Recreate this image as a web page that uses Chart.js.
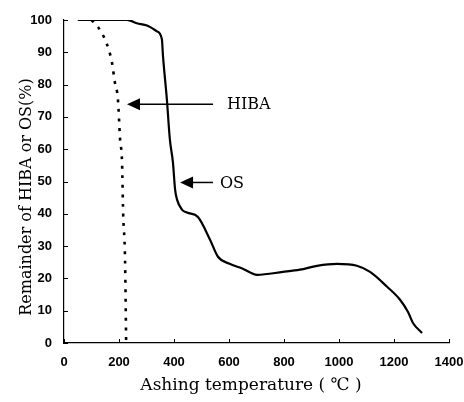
<!DOCTYPE html>
<html>
<head>
<meta charset="utf-8">
<script src="https://cdn.jsdelivr.net/npm/chart.js@4.4.1/dist/chart.umd.min.js"></script>
<style>
  html, body { margin: 0; padding: 0; background: #fff; }
  #wrap { width: 464px; height: 402px; }
</style>
</head>
<body>
<div id="wrap"><canvas id="ashChart" width="464" height="402"></canvas></div>
<script>
  // values
  const osTemp  = [50, 229, 265, 302, 338, 356, 360, 374, 385, 396, 404, 411, 429, 447, 487, 531, 560, 600, 650, 702, 796, 858, 920, 993, 1065, 1113, 1175, 1222, 1251, 1269, 1302];
  const osValue = [100, 100, 99, 98.3, 96.5, 94, 88.8, 75.5, 63, 56, 47.5, 44.4, 41.3, 40.4, 39, 32, 26.7, 24.6, 23, 21.1, 22, 22.7, 23.9, 24.5, 23.9, 22, 17.4, 13.4, 9.6, 6.2, 3.1];

  const hibaTemp  = [100, 124, 156, 174, 185, 196, 204, 211, 215, 222, 226];
  const hibaValue = [100, 97.8, 92.5, 87, 80.7, 75.5, 63, 56, 40.4, 25.8, 0];

  const xTicks = [0, 200, 400, 600, 800, 1000, 1200, 1400];
  const yTicks = [0, 10, 20, 30, 40, 50, 60, 70, 80, 90, 100];

  // arrow labels: text, arrow tip (temp, value), tail temp, text start temp
  const arrowLabels = ['HIBA', 'OS'];
  const arrowTipX   = [229, 422];
  const arrowTipY   = [73.9, 49.7];
  const arrowTailX  = [542, 542];
  const arrowTextX  = [593, 567];

  const xTitle = 'Ashing temperature ( \u2103 )';
  const yTitle = 'Remainder of HIBA or OS(%)';

  const toPoints = (xs, ys) => xs.map((x, i) => ({ x: x, y: ys[i] }));
  const tickFont = { family: '"Liberation Sans", Arial, sans-serif', size: 13, weight: 'bold' };

  const extras = {
    id: 'extras',
    afterDraw(chart) {
      const { ctx, scales: { x, y } } = chart;
      ctx.save();
      ctx.strokeStyle = '#000';
      ctx.fillStyle = '#000';
      ctx.lineWidth = 1;

      // inward tick marks
      ctx.beginPath();
      xTicks.forEach(v => {
        const px = Math.round(x.getPixelForValue(v)) + 0.5;
        ctx.moveTo(px, y.bottom);
        ctx.lineTo(px, y.bottom - 4);
      });
      yTicks.forEach(v => {
        const py = Math.round(y.getPixelForValue(v)) + 0.5;
        ctx.moveTo(x.left, py);
        ctx.lineTo(x.left + 4, py);
      });
      ctx.stroke();

      // arrows with labels
      ctx.font = '16px "DejaVu Serif", serif';
      ctx.textBaseline = 'middle';
      ctx.textAlign = 'left';
      arrowLabels.forEach((label, i) => {
        const tipX = x.getPixelForValue(arrowTipX[i]);
        const tipY = y.getPixelForValue(arrowTipY[i]);
        const tailX = x.getPixelForValue(arrowTailX[i]);
        ctx.lineWidth = 1.5;
        ctx.beginPath();
        ctx.moveTo(tipX + 10, tipY);
        ctx.lineTo(tailX, tipY);
        ctx.stroke();
        ctx.beginPath();
        ctx.moveTo(tipX, tipY);
        ctx.lineTo(tipX + 13, tipY - 6);
        ctx.lineTo(tipX + 13, tipY + 6);
        ctx.closePath();
        ctx.fill();
        ctx.fillText(label, x.getPixelForValue(arrowTextX[i]), tipY + 1);
      });

      // axis titles
      ctx.textAlign = 'center';
      ctx.font = '17px "DejaVu Serif", serif';
      ctx.fillText(xTitle, 251, 386);
      ctx.save();
      ctx.translate(27, 197);
      ctx.rotate(-Math.PI / 2);
      ctx.font = '16px "DejaVu Serif", serif';
      ctx.fillText(yTitle, 0, 0);
      ctx.restore();

      ctx.restore();
    }
  };

  new Chart(document.getElementById('ashChart'), {
    type: 'line',
    data: {
      datasets: [
        {
          label: 'OS',
          data: toPoints(osTemp, osValue),
          borderColor: '#000',
          borderWidth: 2.2,
          pointRadius: 0,
          cubicInterpolationMode: 'monotone'
        },
        {
          label: 'HIBA',
          data: toPoints(hibaTemp, hibaValue),
          borderColor: '#000',
          borderWidth: 2.6,
          borderDash: [3, 6.5],
          pointRadius: 0,
          cubicInterpolationMode: 'monotone'
        }
      ]
    },
    options: {
      responsive: false,
      animation: false,
      layout: { padding: { top: 20, right: 0, bottom: 0, left: 0 } },
      scales: {
        x: {
          type: 'linear',
          min: 0,
          max: 1400,
          afterFit: s => { s.height = 59; s.paddingRight = 15; },
          afterBuildTicks: s => { s.ticks = xTicks.map(v => ({ value: v })); },
          grid: { display: false, drawTicks: false },
          border: { display: true, color: '#000', width: 1.2 },
          ticks: {
            padding: 12,
            color: '#000',
            maxRotation: 0,
            callback: v => String(v),
            font: tickFont
          }
        },
        y: {
          min: 0,
          max: 100,
          afterFit: s => { s.width = 64; },
          afterBuildTicks: s => { s.ticks = yTicks.map(v => ({ value: v })); },
          grid: { display: false, drawTicks: false },
          border: { display: true, color: '#000', width: 1.2 },
          ticks: {
            padding: 12,
            color: '#000',
            callback: v => String(v),
            font: tickFont
          }
        }
      },
      plugins: {
        legend: { display: false },
        tooltip: { enabled: false }
      }
    },
    plugins: [extras]
  });
</script>
</body>
</html>
